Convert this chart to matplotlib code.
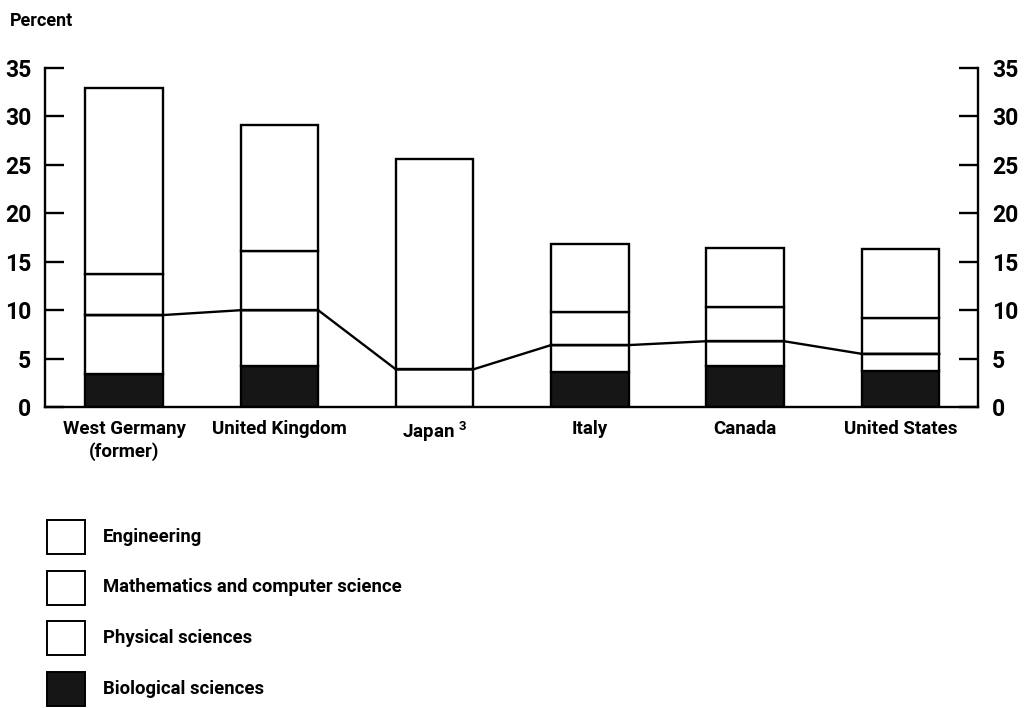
import numpy as np
import matplotlib
matplotlib.use('Agg')
import matplotlib.pyplot as plt
from matplotlib.patches import Rectangle

plt.rcParams['font.family'] = ['Roboto', 'DejaVu Sans']
plt.rcParams['font.weight'] = 'bold'
plt.rcParams['mathtext.fontset'] = 'custom'
plt.rcParams['mathtext.rm'] = 'Roboto:bold'
plt.rcParams['mathtext.it'] = 'Roboto:bold'

countries = ['West Germany\n(former)', 'United Kingdom', 'Japan $^{3}$', 'Italy', 'Canada', 'United States']
biological = [3.4, 4.2, 0.0, 3.6, 4.2, 3.7]
physical = [6.1, 5.8, 3.9, 2.8, 2.6, 1.8]
math_cs = [4.2, 6.1, 0.0, 3.4, 3.5, 3.7]
engineering = [19.2, 13.0, 21.7, 7.0, 6.1, 7.1]

legend_labels = ['Engineering', 'Mathematics and computer science',
                 'Physical sciences', 'Biological sciences']
legend_colors = ['white', 'white', 'white', '#161616']

x = np.arange(len(countries))
w = 0.5

fig = plt.figure(figsize=(10.36, 7.08), dpi=100)
ax = fig.add_axes([0.0434, 0.425, 0.9006, 0.479])

bio = np.array(biological)
phys = np.array(physical)
mat = np.array(math_cs)
eng = np.array(engineering)

kw = dict(width=w, edgecolor='black', linewidth=1.7)
ax.bar(x, bio, color='#161616', **kw)
ax.bar(x, phys, bottom=bio, color='white', **kw)
ax.bar(x, mat, bottom=bio + phys, color='white', **kw)
ax.bar(x, eng, bottom=bio + phys + mat, color='white', **kw)

# line along the top of the physical sciences segments
top_phys = bio + phys
lx, ly = [], []
for xi, yi in zip(x, top_phys):
    lx += [xi - w / 2, xi + w / 2]
    ly += [yi, yi]
ax.plot(lx, ly, color='black', linewidth=1.7)

ax.set_xlim(-0.51, 5.5)
ax.set_ylim(0, 35)
ax.set_yticks(range(0, 36, 5))
ax.spines['top'].set_visible(False)
for s in ['left', 'right', 'bottom']:
    ax.spines[s].set_linewidth(1.7)
ax.tick_params(axis='y', direction='in', length=14, width=1.7, labelsize=16.5,
               left=True, right=True, labelleft=True, labelright=True, pad=10)
ax.tick_params(axis='x', length=0, labelsize=13.5, pad=9)
ax.set_xticks(x)
ax.set_xticklabels(countries, linespacing=1.3)

fig.text(0.01, 0.97, 'Percent', fontsize=13, ha='left', va='center')

# legend drawn by hand in figure pixels
for i, (lab, col) in enumerate(zip(legend_labels, legend_colors)):
    yc = 537 + i * 50.5
    fig.add_artist(Rectangle((47 / 1036, 1 - (yc + 17) / 708), 38 / 1036, 34 / 708,
                             transform=fig.transFigure, facecolor=col,
                             edgecolor='black', linewidth=1.4))
    fig.text(103 / 1036, 1 - yc / 708, lab, fontsize=13.3, ha='left', va='center')

fig.savefig('out.png', dpi=100)
